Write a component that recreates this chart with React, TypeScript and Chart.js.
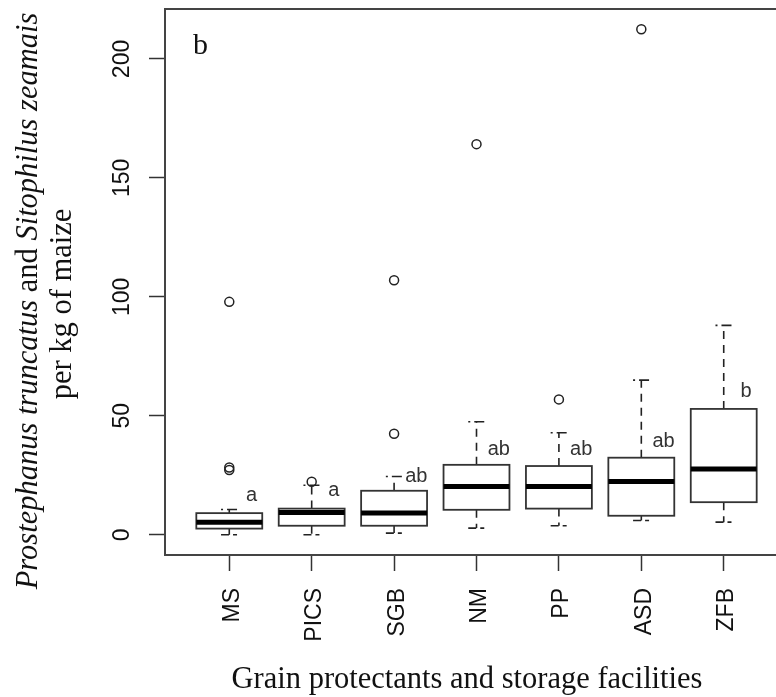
import React, { useEffect, useRef } from "react";
import { Chart, registerables } from "chart.js";

Chart.register(...registerables);

// ---- data ----
const categories = ["MS", "PICS", "SGB", "NM", "PP", "ASD", "ZFB"];
const lowerWhisker = [0, 0, 0.7, 2.8, 3.8, 6.0, 5.3];
const q1 = [2.6, 3.8, 3.8, 10.5, 11.0, 8.0, 13.7];
const medians = [5.3, 9.4, 9.2, 20.3, 20.3, 22.4, 27.6];
const q3 = [9.1, 11.0, 18.5, 29.4, 28.9, 32.4, 52.9];
const upperWhisker = [10.6, 20.8, 24.5, 47.5, 42.9, 65.0, 88.0];
const outliers: number[][] = [[97.9, 28.3, 27.2], [22.3], [107.0, 42.5], [164.2], [56.9], [212.5], []];
const groupLetters = ["a", "a", "ab", "ab", "ab", "ab", "b"];
const letterY = [14.4, 16.5, 22.1, 33.6, 33.6, 36.8, 57.8];
const yTicks = [0, 50, 100, 150, 200];
const panelLabel = "b";
const xTitle = "Grain protectants and storage facilities";
const yTitleRuns: [string, boolean][] = [
  ["Prostephanus truncatus", true],
  [" and ", false],
  ["Sitophilus zeamais", true],
];
const yTitleLine2 = "per kg of maize";

// axis range like R (4% extension)
const allVals = [...lowerWhisker, ...upperWhisker, ...outliers.flat()];
const dMin = Math.min(...allVals);
const dMax = Math.max(...allVals);
const yMin = dMin - 0.04 * (dMax - dMin);
const yMax = dMax + 0.04 * (dMax - dMin);
const xMin = 0.5 - 0.04 * categories.length;
const xMax = categories.length + 0.5 + 0.04 * categories.length;

const INK = "#222";
const SANS = "'Liberation Sans', Arial, sans-serif";
const SERIF = "'Liberation Serif', 'Times New Roman', serif";

const boxPlugin = {
  id: "boxes",
  beforeDatasetsDraw(chart: any) {
    const { ctx } = chart;
    const xs = chart.scales.x;
    const ys = chart.scales.y;
    const line = (x1: number, y1: number, x2: number, y2: number) => {
      ctx.beginPath();
      ctx.moveTo(x1, y1);
      ctx.lineTo(x2, y2);
      ctx.stroke();
    };
    ctx.save();
    categories.forEach((_, i) => {
      const xc = xs.getPixelForValue(i + 1);
      const half = xs.getPixelForValue(i + 1.4) - xc;
      const st = half * 0.25;
      const yq1 = ys.getPixelForValue(q1[i]);
      const yq3 = ys.getPixelForValue(q3[i]);
      const ymed = ys.getPixelForValue(medians[i]);
      const ylw = ys.getPixelForValue(lowerWhisker[i]);
      const yuw = ys.getPixelForValue(upperWhisker[i]);
      ctx.strokeStyle = INK;
      ctx.lineCap = "butt";
      // whiskers (dashed)
      ctx.lineWidth = 1.6;
      ctx.setLineDash([8, 6]);
      line(xc, yq3, xc, yuw);
      line(xc, yq1, xc, ylw);
      // staples
      ctx.setLineDash([2, 4, 10, 20]);
      line(xc - st, yuw, xc + st, yuw);
      ctx.setLineDash([8, 4, 4, 20]);
      line(xc - st, ylw, xc + st, ylw);
      ctx.setLineDash([]);
      // box
      ctx.fillStyle = "#fff";
      ctx.fillRect(xc - half, yq3, 2 * half, yq1 - yq3);
      ctx.lineWidth = 1.8;
      ctx.strokeStyle = "#333";
      ctx.strokeRect(xc - half, yq3, 2 * half, yq1 - yq3);
      // median
      ctx.strokeStyle = "#000";
      ctx.lineWidth = 5;
      line(xc - half, ymed, xc + half, ymed);
    });
    ctx.restore();
  },
  afterDraw(chart: any) {
    const { ctx, chartArea } = chart;
    const xs = chart.scales.x;
    const ys = chart.scales.y;
    ctx.save();
    // frame
    ctx.strokeStyle = "#444";
    ctx.lineWidth = 2;
    ctx.strokeRect(chartArea.left, chartArea.top, chartArea.right - chartArea.left, chartArea.bottom - chartArea.top);

    ctx.fillStyle = "#111";
    // y tick labels (rotated)
    ctx.font = `23px ${SANS}`;
    ys.ticks.forEach((t: any) => {
      const py = ys.getPixelForValue(t.value);
      ctx.save();
      ctx.translate(chartArea.left - 36.5, py);
      ctx.rotate(-Math.PI / 2);
      ctx.textAlign = "center";
      ctx.textBaseline = "alphabetic";
      ctx.fillText(String(t.value), 0, 0);
      ctx.restore();
    });
    // x tick labels (rotated, right-aligned near axis)
    xs.ticks.forEach((t: any) => {
      const px = xs.getPixelForValue(t.value);
      ctx.save();
      ctx.translate(px + 9.5, chartArea.bottom + 33);
      ctx.rotate(-Math.PI / 2);
      ctx.textAlign = "right";
      ctx.textBaseline = "alphabetic";
      ctx.fillText(categories[t.value - 1], 0, 0);
      ctx.restore();
    });
    // group letters
    ctx.font = `20px ${SANS}`;
    ctx.fillStyle = "#333";
    ctx.textAlign = "center";
    ctx.textBaseline = "alphabetic";
    groupLetters.forEach((l, i) => {
      ctx.fillText(l, xs.getPixelForValue(i + 1.27), ys.getPixelForValue(letterY[i]));
    });
    // panel label
    ctx.fillStyle = "#111";
    ctx.font = `30px ${SERIF}`;
    ctx.textAlign = "left";
    ctx.fillText(panelLabel, chartArea.left + 28, chartArea.top + 45);
    // x title
    ctx.font = `30.5px ${SERIF}`;
    ctx.textAlign = "center";
    ctx.fillText(xTitle, 467, 688);
    // y title line 1 (mixed italic)
    ctx.save();
    ctx.translate(37, 301);
    ctx.rotate(-Math.PI / 2);
    ctx.textAlign = "left";
    let total = 0;
    const widths = yTitleRuns.map(([s, it]) => {
      ctx.font = `${it ? "italic " : ""}30.5px ${SERIF}`;
      const w = ctx.measureText(s).width;
      total += w;
      return w;
    });
    let cx = -total / 2;
    yTitleRuns.forEach(([s, it], k) => {
      ctx.font = `${it ? "italic " : ""}30.5px ${SERIF}`;
      ctx.fillText(s, cx, 0);
      cx += widths[k];
    });
    ctx.restore();
    // y title line 2
    ctx.save();
    ctx.translate(71, 304);
    ctx.rotate(-Math.PI / 2);
    ctx.textAlign = "center";
    ctx.font = `30.5px ${SERIF}`;
    ctx.fillText(yTitleLine2, 0, 0);
    ctx.restore();
    ctx.restore();
  },
};

export default function App() {
  const ref = useRef<HTMLCanvasElement | null>(null);
  useEffect(() => {
    if (!ref.current) return;
    const chart = new Chart(ref.current, {
      type: "scatter",
      data: {
        datasets: [
          {
            label: "outliers",
            data: outliers.flatMap((arr, i) => arr.map((v) => ({ x: i + 1, y: v }))),
            pointStyle: "circle",
            pointRadius: 4.5,
            pointHoverRadius: 4.5,
            borderWidth: 1.5,
            borderColor: INK,
            backgroundColor: "rgba(0,0,0,0)",
          },
        ],
      },
      options: {
        responsive: false,
        animation: false,
        devicePixelRatio: 1,
        layout: { padding: { left: 0, top: 9, right: 12, bottom: 0 } },
        plugins: { legend: { display: false }, tooltip: { enabled: false } },
        events: [],
        scales: {
          x: {
            type: "linear",
            min: xMin,
            max: xMax,
            afterBuildTicks: (s: any) => {
              s.ticks = categories.map((_, i) => ({ value: i + 1 }));
            },
            afterFit: (s: any) => {
              s.height = 142;
            },
            grid: { display: true, drawOnChartArea: false, drawTicks: true, tickLength: 16, tickColor: "#333", tickWidth: 1.5 },
            border: { display: false },
            ticks: { display: false },
          },
          y: {
            type: "linear",
            min: yMin,
            max: yMax,
            afterBuildTicks: (s: any) => {
              s.ticks = yTicks.map((v) => ({ value: v }));
            },
            afterFit: (s: any) => {
              s.width = 165;
            },
            grid: { display: true, drawOnChartArea: false, drawTicks: true, tickLength: 16, tickColor: "#333", tickWidth: 1.5 },
            border: { display: false },
            ticks: { display: false },
          },
        },
      },
      plugins: [boxPlugin],
    });
    return () => chart.destroy();
  }, []);
  return (
    <div style={{ position: "absolute", left: 0, top: 0, width: 776, height: 697, overflow: "hidden", background: "#fff" }}>
      <canvas ref={ref} width={800} height={697} style={{ width: 800, height: 697, display: "block" }} />
    </div>
  );
}
